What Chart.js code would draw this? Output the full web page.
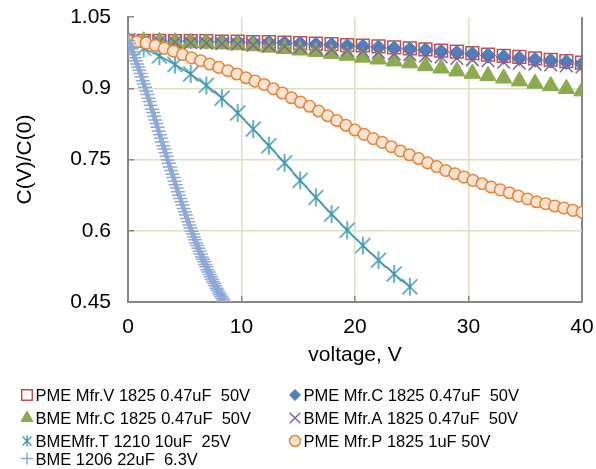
<!DOCTYPE html>
<html>
<head>
<meta charset="utf-8">
<title>C(V)/C(0) vs voltage</title>
<script src="https://cdn.jsdelivr.net/npm/chart.js@4/dist/chart.umd.min.js"></script>
<style>
  html, body { margin: 0; padding: 0; background: #fff; }
  canvas { display: block; }
</style>
</head>
<body>
<canvas id="cvChart" width="596" height="469"></canvas>
<script>
// Bias voltage sweeps, 1825 / 1210 parts (same step for all of them)
var voltsA = [0, 1.38, 2.76, 4.14, 5.52, 6.9, 8.28, 9.66, 11.03, 12.41,
	13.79, 15.17, 16.55, 17.93, 19.31, 20.69, 22.07, 23.45, 24.83, 26.21,
	27.59, 28.97, 30.34, 31.72, 33.1, 34.48, 35.86, 37.24, 38.62, 40];
var voltsT = [0, 1.38, 2.76, 4.14, 5.52, 6.9, 8.28, 9.66, 11.03, 12.41,
	13.79, 15.17, 16.55, 17.93, 19.31, 20.69, 22.07, 23.45, 24.83];
var voltsP = [0, 0.8, 1.6, 2.4, 3.2, 4, 4.8, 5.6, 6.4, 7.2,
	8, 8.8, 9.6, 10.4, 11.2, 12, 12.8, 13.6, 14.4, 15.2,
	16, 16.8, 17.6, 18.4, 19.2, 20, 20.8, 21.6, 22.4, 23.2,
	24, 24.8, 25.6, 26.4, 27.2, 28, 28.8, 29.6, 30.4, 31.2,
	32, 32.8, 33.6, 34.4, 35.2, 36, 36.8, 37.6, 38.4, 39.2, 40];
var volts1206 = [0, 0.1, 0.2, 0.3, 0.4, 0.5, 0.6, 0.7, 0.8, 0.9,
	1, 1.1, 1.2, 1.3, 1.4, 1.5, 1.6, 1.7, 1.8, 1.9,
	2, 2.1, 2.2, 2.3, 2.4, 2.5, 2.6, 2.7, 2.8, 2.9,
	3, 3.1, 3.2, 3.3, 3.4, 3.5, 3.6, 3.7, 3.8, 3.9,
	4, 4.1, 4.2, 4.3, 4.4, 4.5, 4.6, 4.7, 4.8, 4.9,
	5, 5.1, 5.2, 5.3, 5.4, 5.5, 5.6, 5.7, 5.8, 5.9,
	6, 6.1, 6.2, 6.3, 6.4, 6.5, 6.6, 6.7, 6.8, 6.9,
	7, 7.1, 7.2, 7.3, 7.4, 7.5, 7.6, 7.7, 7.8, 7.9,
	8, 8.1, 8.2, 8.3, 8.4, 8.5];

// Normalised capacitance C(V)/C(0)
var pmeV = [1.000, 1.000, 1.000, 0.999, 0.999, 0.999, 0.998, 0.998, 0.997, 0.997,
	0.996, 0.995, 0.994, 0.993, 0.991, 0.990, 0.988, 0.986, 0.984, 0.982,
	0.979, 0.977, 0.974, 0.971, 0.968, 0.966, 0.963, 0.960, 0.957, 0.954];
var pmeC = [1.000, 1.000, 0.999, 0.999, 0.999, 0.998, 0.998, 0.997, 0.996, 0.996,
	0.995, 0.994, 0.992, 0.991, 0.989, 0.988, 0.986, 0.984, 0.982, 0.980,
	0.977, 0.975, 0.972, 0.969, 0.966, 0.963, 0.960, 0.958, 0.955, 0.951];
var bmeC = [1.000, 0.999, 0.998, 0.997, 0.996, 0.995, 0.993, 0.991, 0.989, 0.986,
	0.983, 0.980, 0.977, 0.973, 0.969, 0.965, 0.961, 0.957, 0.953, 0.947,
	0.942, 0.936, 0.931, 0.926, 0.921, 0.915, 0.910, 0.905, 0.899, 0.894];
var bmeA = [1.000, 0.999, 0.998, 0.997, 0.996, 0.995, 0.994, 0.993, 0.991, 0.990,
	0.988, 0.986, 0.984, 0.982, 0.980, 0.978, 0.976, 0.973, 0.971, 0.968,
	0.966, 0.963, 0.960, 0.958, 0.955, 0.953, 0.951, 0.949, 0.947, 0.945];
var bmeT = [1.000, 0.984, 0.968, 0.950, 0.930, 0.906, 0.879, 0.848, 0.814, 0.779,
	0.743, 0.706, 0.670, 0.635, 0.601, 0.569, 0.538, 0.509, 0.482];
var pmeP = [1.000, 0.998, 0.995, 0.990, 0.984, 0.978, 0.971, 0.964, 0.958, 0.951,
	0.944, 0.937, 0.930, 0.922, 0.915, 0.908, 0.899, 0.890, 0.880, 0.871,
	0.862, 0.852, 0.842, 0.832, 0.822, 0.812, 0.803, 0.794, 0.786, 0.777,
	0.768, 0.760, 0.752, 0.743, 0.735, 0.727, 0.720, 0.713, 0.706, 0.699,
	0.692, 0.686, 0.680, 0.673, 0.667, 0.661, 0.657, 0.652, 0.648, 0.643, 0.639];
var bme1206 = [1.000, 0.994, 0.988, 0.983, 0.977, 0.971, 0.964, 0.958, 0.951, 0.945,
	0.938, 0.931, 0.924, 0.916, 0.909, 0.902, 0.894, 0.887, 0.879, 0.872,
	0.864, 0.856, 0.849, 0.841, 0.833, 0.826, 0.818, 0.810, 0.802, 0.795,
	0.787, 0.779, 0.772, 0.764, 0.757, 0.749, 0.742, 0.734, 0.727, 0.719,
	0.712, 0.704, 0.697, 0.690, 0.682, 0.675, 0.668, 0.661, 0.654, 0.647,
	0.640, 0.633, 0.626, 0.619, 0.612, 0.606, 0.599, 0.593, 0.587, 0.581,
	0.574, 0.569, 0.563, 0.557, 0.551, 0.545, 0.540, 0.535, 0.529, 0.524,
	0.518, 0.513, 0.508, 0.503, 0.498, 0.493, 0.489, 0.484, 0.479, 0.475,
	0.470, 0.466, 0.462, 0.458, 0.454, 0.450];

var seriesNames = [
	'PME Mfr.V 1825 0.47uF  50V',
	'PME Mfr.C 1825 0.47uF  50V',
	'BME Mfr.C 1825 0.47uF  50V',
	'BME Mfr.A 1825 0.47uF  50V',
	'BMEMfr.T 1210 10uF  25V',
	'PME Mfr.P 1825 1uF 50V',
	'BME 1206 22uF  6.3V'
];

var xTicks = [0, 10, 20, 30, 40];
var xTickLabels = ['0', '10', '20', '30', '40'];
var yTicks = [0.45, 0.6, 0.75, 0.9, 1.05];
var yTickLabels = ['0.45', '0.6', '0.75', '0.9', '1.05'];

(function () {
	'use strict';

	var FONT = "'Liberation Sans', Arial, sans-serif";
	var AXIS_GREY = '#868686';
	var GRID_GREEN = '#D7E4BD';
	var CLEAR = 'rgba(0, 0, 0, 0)';
	var TEAL = '#3D97B0';

	// key layout: two columns, four rows under the plot
	var keyColumns = [27, 295];
	var keyRows = [395, 418, 441, 458.5];

	function points(xs, ys) {
		return xs.map(function (x, i) {
			return { x: x, y: ys[i] };
		});
	}

	/**
	 * Asterisk marker: vertical bar crossed by an X
	 */
	function asterisk(size, half, diag, color, width) {
		var c = document.createElement('canvas');
		c.width = size;
		c.height = size;
		var g = c.getContext('2d');
		var m = size / 2;
		g.strokeStyle = color;
		g.lineWidth = width;
		g.beginPath();
		g.moveTo(m, m - half);
		g.lineTo(m, m + half);
		g.moveTo(m - diag, m - diag);
		g.lineTo(m + diag, m + diag);
		g.moveTo(m + diag, m - diag);
		g.lineTo(m - diag, m + diag);
		g.stroke();
		return c;
	}

	/**
	 * Series key drawn in a fixed two-column grid
	 */
	var seriesKey = {
		id: 'seriesKey',
		afterDraw: function (chart) {
			var ctx = chart.ctx;
			chart.data.datasets.forEach(function (ds, i) {
				var mx = keyColumns[i % 2];
				var my = keyRows[Math.floor(i / 2)];
				ctx.save();
				ctx.fillStyle = ds.pointBackgroundColor;
				ctx.strokeStyle = ds.pointBorderColor;
				ctx.lineWidth = ds.pointBorderWidth;
				Chart.helpers.drawPoint(ctx, {
					pointStyle: ds.keyStyle || ds.pointStyle,
					radius: ds.keyRadius,
					borderWidth: ds.pointBorderWidth,
					rotation: 0
				}, mx, my);
				ctx.fillStyle = '#000';
				ctx.font = '16.5px ' + FONT;
				ctx.textAlign = 'left';
				ctx.textBaseline = 'alphabetic';
				ctx.fillText(ds.label, mx + 8.5, my + 6);
				ctx.restore();
			});
		}
	};

	new Chart(document.getElementById('cvChart'), {
		type: 'scatter',
		data: {
			datasets: [
				{
					label: seriesNames[0],
					data: points(voltsA, pmeV),
					pointStyle: 'rect',
					pointRadius: 9,
					pointBackgroundColor: CLEAR,
					pointBorderColor: '#C0504D',
					pointBorderWidth: 1.5,
					showLine: false,
					order: 7,
					keyRadius: 7.5
				},
				{
					label: seriesNames[1],
					data: points(voltsA, pmeC),
					pointStyle: 'rectRot',
					pointRadius: 7.5,
					pointBackgroundColor: '#4F7FBD',
					pointBorderColor: '#4F7FBD',
					pointBorderWidth: 1,
					showLine: false,
					order: 6,
					keyRadius: 5.5
				},
				{
					label: seriesNames[2],
					data: points(voltsA, bmeC),
					pointStyle: 'triangle',
					pointRadius: 9.5,
					pointBackgroundColor: '#8DAA4E',
					pointBorderColor: '#8DAA4E',
					pointBorderWidth: 1,
					showLine: false,
					order: 5,
					keyRadius: 7
				},
				{
					label: seriesNames[3],
					data: points(voltsA, bmeA),
					pointStyle: 'crossRot',
					pointRadius: 9,
					pointBackgroundColor: '#7F63A2',
					pointBorderColor: '#7F63A2',
					pointBorderWidth: 1.5,
					showLine: false,
					order: 4,
					keyRadius: 7.5
				},
				{
					label: seriesNames[4],
					data: points(voltsT, bmeT),
					pointStyle: asterisk(20, 9, 7.5, TEAL, 1.5),
					keyStyle: asterisk(12, 5.5, 4.5, TEAL, 1.3),
					pointRadius: 9,
					pointBackgroundColor: TEAL,
					pointBorderColor: TEAL,
					pointBorderWidth: 1.5,
					borderColor: TEAL,
					borderWidth: 1.5,
					showLine: true,
					order: 3,
					keyRadius: 6
				},
				{
					label: seriesNames[5],
					data: points(voltsP, pmeP),
					pointStyle: 'circle',
					pointRadius: 5.8,
					pointBackgroundColor: '#FDE4D2',
					pointBorderColor: '#E5853A',
					pointBorderWidth: 1.5,
					showLine: false,
					order: 2,
					keyRadius: 5.5
				},
				{
					label: seriesNames[6],
					data: points(volts1206, bme1206),
					pointStyle: 'cross',
					pointRadius: 7,
					pointBackgroundColor: '#8FA8D6',
					pointBorderColor: '#8FA8D6',
					pointBorderWidth: 1.5,
					borderColor: '#8FA8D6',
					borderWidth: 1.5,
					showLine: true,
					order: 1,
					keyRadius: 6
				}
			]
		},
		options: {
			responsive: false,
			animation: false,
			events: [],
			layout: {
				padding: { top: 17, right: 14, bottom: 97, left: 0 }
			},
			plugins: {
				legend: { display: false },
				tooltip: { enabled: false }
			},
			scales: {
				x: {
					type: 'linear',
					min: 0,
					max: 40,
					afterBuildTicks: function (scale) {
						scale.ticks = xTicks.map(function (v) {
							return { value: v };
						});
					},
					afterFit: function (scale) {
						scale.height = 70;
						scale.paddingLeft = 0;
						scale.paddingRight = 0;
					},
					border: { display: true, color: AXIS_GREY, width: 2 },
					grid: {
						color: function (c) {
							var v = c.tick.value;
							if (v === 0) {
								return CLEAR;
							}
							return v === 40 ? AXIS_GREY : GRID_GREEN;
						},
						lineWidth: function (c) {
							return c.tick.value === 40 ? 2 : 1.5;
						},
						drawTicks: true,
						tickLength: -6,
						tickColor: AXIS_GREY,
						tickWidth: 1.5
					},
					ticks: {
						padding: 19,
						color: '#000',
						maxRotation: 0,
						font: { family: FONT, size: 21 },
						callback: function (value, index) {
							return xTickLabels[index];
						}
					},
					title: {
						display: true,
						text: 'voltage, V',
						color: '#000',
						font: { family: FONT, size: 21 },
						padding: { top: 4, bottom: 4 }
					}
				},
				y: {
					min: 0.45,
					max: 1.05,
					afterBuildTicks: function (scale) {
						scale.ticks = yTicks.map(function (v) {
							return { value: v };
						});
					},
					afterFit: function (scale) {
						scale.width = 128;
						scale.paddingTop = 0;
						scale.paddingBottom = 0;
					},
					border: { display: true, color: AXIS_GREY, width: 2 },
					grid: {
						color: function (c) {
							var v = c.tick.value;
							return (v === 0.45 || v === 1.05) ? CLEAR : GRID_GREEN;
						},
						lineWidth: 1.5,
						drawTicks: true,
						tickLength: -6,
						tickColor: AXIS_GREY,
						tickWidth: 1.5
					},
					ticks: {
						padding: 23,
						color: '#000',
						font: { family: FONT, size: 21 },
						callback: function (value, index) {
							return yTickLabels[index];
						}
					},
					title: {
						display: true,
						text: 'C(V)/C(0)',
						color: '#000',
						font: { family: FONT, size: 21 },
						padding: { top: 13, bottom: 0 }
					}
				}
			}
		},
		plugins: [seriesKey]
	});
})();
</script>
</body>
</html>
